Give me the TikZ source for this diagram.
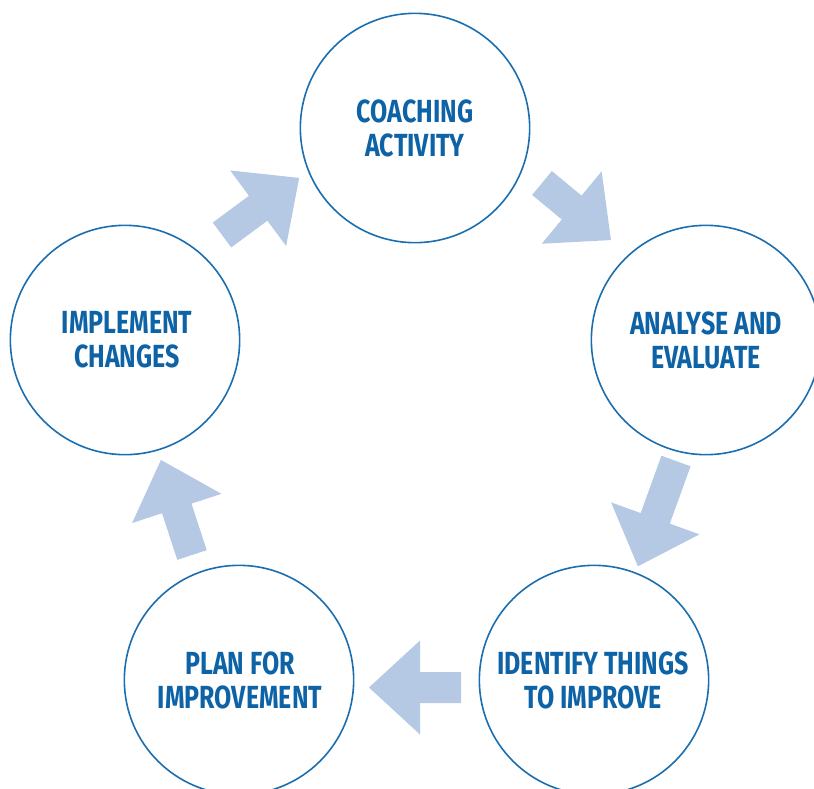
\documentclass[tikz,border=0pt]{standalone}
\usepackage{fontspec}
\newfontfamily\labfont[FakeStretch=0.78]{Fira Sans}
\definecolor{ringblue}{HTML}{1A6EAF}
\definecolor{textblue}{HTML}{0D63A5}
\definecolor{arrowblue}{HTML}{B5C9E4}
\tikzset{
  ring/.style={circle, draw=ringblue, line width=1.2pt, minimum size=172pt, inner sep=0pt},
  lab/.style={text=textblue, font=\labfont\bfseries\fontsize{24}{25.5}\selectfont, align=center},
  blockarrow/.style={fill=arrowblue, draw=none}
}
% #1 tail-mid x, #2 tail-mid y (px), #3 canvas angle, #4 length (px)
\newcommand{\blockarr}[4]{%
  \begin{scope}[shift={(#1,#2)}, rotate=#3, x=0.75pt, y=0.75pt]
    \fill[blockarrow] (0,-15.5) -- ({#4-51},-15.5) -- ({#4-51},-47) -- (#4,0) -- ({#4-51},47) -- ({#4-51},15.5) -- (0,15.5) -- cycle;
  \end{scope}}
\begin{document}
\begin{tikzpicture}[x=0.75pt, y=-0.75pt]
\useasboundingbox (0,0) rectangle (814,789);
\node[ring] (c1) at (415,128) {};
\node[ring] (c2) at (706,340) {};
\node[ring] (c3) at (594,680) {};
\node[ring] (c4) at (239,680) {};
\node[ring] (c5) at (125,340) {};
\node[lab] (t1) at (415,128) {COACHING\\ACTIVITY};
\node[lab] (t2) at (706,340) {ANALYSE AND\\EVALUATE};
\node[lab] (t3) at (593,680) {IDENTIFY THINGS\\TO IMPROVE};
\node[lab] (t4) at (240,680) {PLAN FOR\\IMPROVEMENT};
\node[lab] (t5) at (127,340) {IMPLEMENT\\CHANGES};
\blockarr{542}{183}{-39.6}{89.5}
\blockarr{676}{461}{-109.9}{112}
\blockarr{461}{687.5}{180}{92}
\blockarr{192}{555}{108.1}{100}
\blockarr{222}{235}{36.5}{96}
\end{tikzpicture}
\end{document}
